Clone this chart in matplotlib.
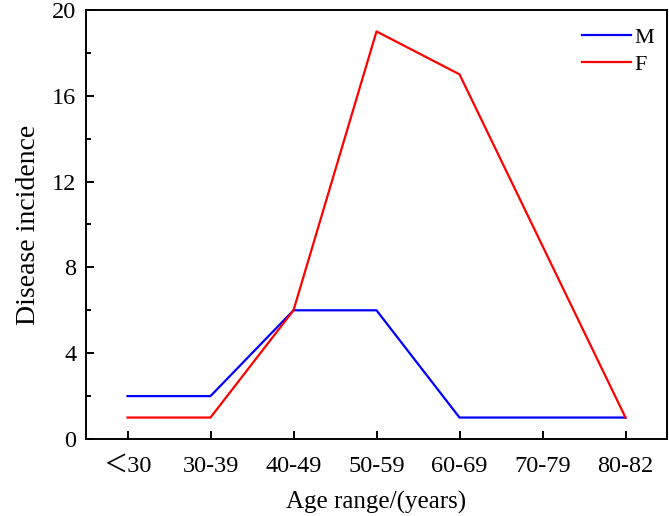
import matplotlib.pyplot as plt
from matplotlib.ticker import MultipleLocator

# 数据
age_groups = ['\uff1c30', '30-39', '40-49', '50-59', '60-69', '70-79', '80-82']
male = [2, 2, 6, 6, 1, 1, 1]
female = [1, 1, 6, 19, 17, 9, 1]

plt.rcParams['font.family'] = ['Liberation Serif', 'Noto Sans CJK SC']

fig = plt.figure(figsize=(6.69, 5.16), dpi=100)
ax = fig.add_axes([86 / 669, 1 - 439 / 516, 581 / 669, 429 / 516])

x = range(len(age_groups))
ax.plot(x, male, color='#0000ff', lw=1.6, label='M')
ax.plot(x, female, color='#ff0000', lw=1.6, label='F')

ax.set_xlim(-0.5, 6.5)
ax.set_ylim(0, 20)
ax.set_xticks(list(x))
ax.set_xticklabels(age_groups)
ax.yaxis.set_major_locator(MultipleLocator(4))
ax.yaxis.set_minor_locator(MultipleLocator(2))
ax.tick_params(direction='in', length=6, width=1.4, labelsize=17.5, pad=7)
ax.tick_params(axis='x', pad=12)
ax.tick_params(which='minor', direction='in', length=3.5, width=1.4)
for s in ax.spines.values():
    s.set_linewidth(1.4)

ax.set_xlabel('Age range/(years)', fontsize=18, labelpad=10)
ax.set_ylabel('Disease incidence', fontsize=20, labelpad=8)

ax.legend(loc='upper right', frameon=False, handlelength=2.2, labelspacing=0.3,
          handletextpad=0.15, fontsize=16, bbox_to_anchor=(1.012, 1.006))

fig.savefig('out.png', dpi=100)
